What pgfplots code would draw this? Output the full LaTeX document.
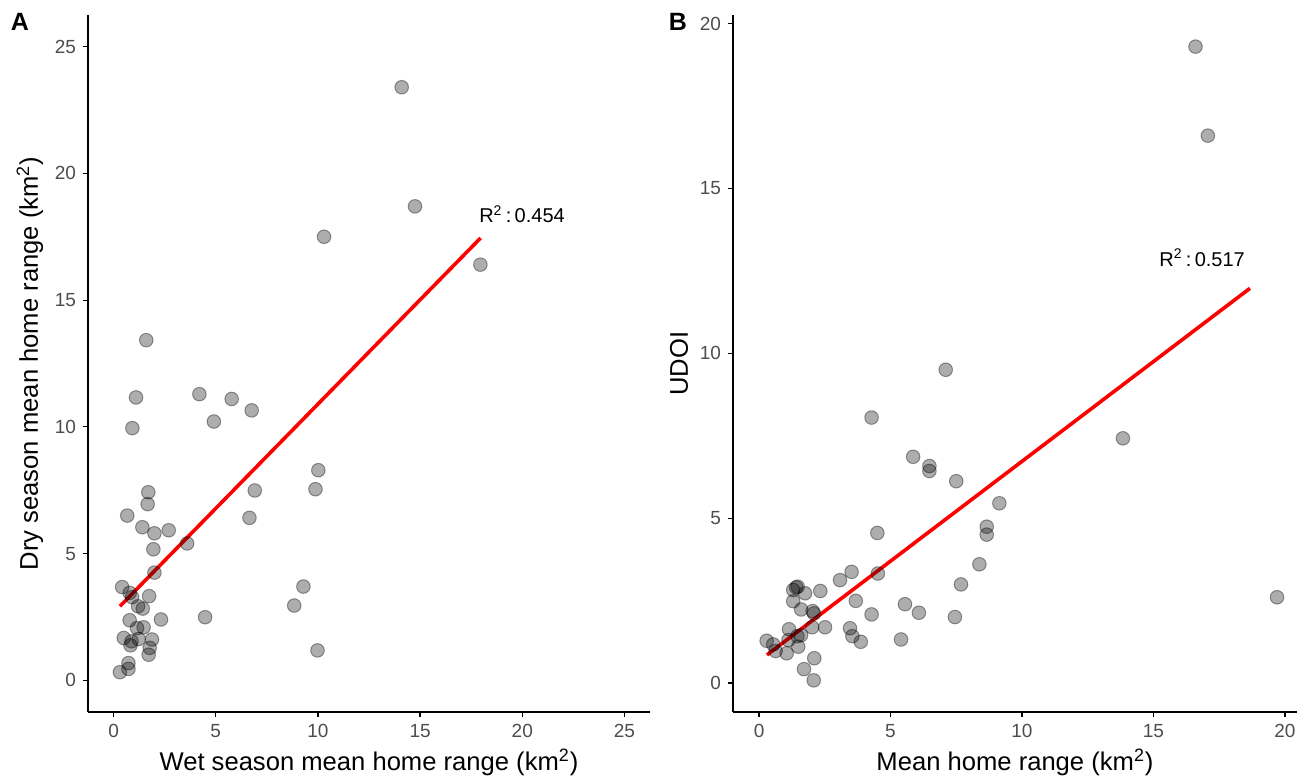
\documentclass[border=0pt]{standalone}
\usepackage{fontspec}
\setmainfont{Liberation Sans}
\usepackage{pgfplots}
\pgfplotsset{compat=1.18}
\definecolor{tickgray}{HTML}{4D4D4D}
\pgfplotsset{
  ggstyle/.style={
    scale only axis,
    axis lines=left,
    axis line style={black, line width=0.6pt, -},
    tick style={black, line width=0.6pt},
    tick align=outside,
    major tick length=2.5pt,
    xtick pos=bottom, ytick pos=left,
    /pgf/number format/assume math mode=true,
    tick label style={font=\fontsize{9.5}{11}\selectfont, text=tickgray},
    label style={font=\fontsize{12.8}{14}\selectfont},
    clip=false,
  },
  pts/.style={only marks, mark=*, mark size=3.4pt,
    mark options={fill=black, fill opacity=0.32, draw=black, draw opacity=0.38, line width=0.5pt}},
  fit/.style={no marks, red, line width=1.8pt},
}
\begin{document}
\begin{tikzpicture}
\path (-44pt,-33.5pt) rectangle (612pt,356pt);
\begin{axis}[ggstyle, at={(0,0)}, width=281pt, height=348.5pt,
  xmin=-1.25, xmax=26.25, ymin=-1.25, ymax=26.25,
  xtick={0,5,10,15,20,25}, ytick={0,5,10,15,20,25},
  xlabel={Wet season mean home range (km\textsuperscript{2})},
  ylabel={Dry season mean home range (km\textsuperscript{2})},
  xlabel style={yshift=1pt}, ylabel style={yshift=-1pt}]
\addplot[pts] coordinates {
(14.1,23.4) (14.75,18.7) (10.3,17.5) (17.95,16.4)
(1.6,13.42) (1.1,11.16) (4.2,11.29) (5.78,11.1) (6.76,10.65)
(0.92,9.95) (4.91,10.21) (10.02,8.29) (1.7,7.42) (6.91,7.49) (9.88,7.54)
(1.67,6.95) (6.65,6.41) (0.67,6.5) (1.41,6.04) (2.7,5.92) (2.0,5.8)
(1.95,5.17) (3.6,5.4) (2.0,4.25) (0.42,3.68) (0.79,3.45) (0.91,3.28)
(1.74,3.32) (1.2,2.92) (1.43,2.83) (2.32,2.4) (0.79,2.37) (1.15,2.06)
(1.47,2.09) (0.5,1.67) (0.88,1.54) (1.23,1.63) (1.88,1.61) (0.83,1.38)
(1.77,1.28) (1.72,1.01) (0.73,0.68) (0.73,0.45) (0.31,0.32)
(9.29,3.7) (8.84,2.95) (4.48,2.49) (9.98,1.18)
};
\addplot[fit] coordinates {(0.31,2.92) (17.96,17.45)};
\node[font=\fontsize{10}{11}\selectfont, anchor=west] at (axis cs:17.55,18.4) {R\textsuperscript{2}\,:\,0.454};
\end{axis}
\node[font=\bfseries\fontsize{12.5}{14}\selectfont] at (-34pt,345pt) {A};
\node[font=\bfseries\fontsize{12.5}{14}\selectfont] at (295pt,345pt) {B};
\begin{axis}[ggstyle, at={(322.5pt,0)}, width=282pt, height=348.5pt,
  xmin=-0.99, xmax=20.46, ymin=-0.88, ymax=20.26,
  xtick={0,5,10,15,20}, ytick={0,5,10,15,20},
  xlabel={Mean home range (km\textsuperscript{2})},
  ylabel={UDOI},
  xlabel style={yshift=1pt}, ylabel style={yshift=-1pt}]
\addplot[pts] coordinates {
(16.6,19.3) (17.07,16.6) (19.7,2.6) (7.1,9.5) (13.84,7.42)
(4.28,8.05) (5.86,6.86) (6.48,6.58) (6.48,6.43) (7.5,6.12) (9.14,5.45)
(8.66,4.74) (8.66,4.5) (4.5,4.55) (8.38,3.6) (7.68,2.99)
(3.52,3.37) (4.52,3.32) (3.08,3.12) (3.68,2.49) (4.28,2.08)
(3.46,1.66) (3.55,1.42) (3.87,1.25) (5.55,2.39) (6.08,2.13) (5.4,1.32) (7.45,2.0)
(0.29,1.28) (0.54,1.17) (0.63,0.97) (1.05,0.9) (1.12,1.3) (1.14,1.63)
(1.46,1.42) (1.49,1.1) (1.6,1.45) (1.41,2.9) (1.47,2.92) (1.3,2.82)
(1.75,2.72) (1.3,2.48) (1.6,2.23) (2.04,2.18) (2.09,2.11) (2.02,1.69)
(2.33,2.79) (2.51,1.69) (2.1,0.75) (1.71,0.42) (2.08,0.08)
};
\addplot[fit] coordinates {(0.3,0.85) (18.67,11.97)};
\node[font=\fontsize{10}{11}\selectfont] at (axis cs:16.85,12.9) {R\textsuperscript{2}\,:\,0.517};
\end{axis}
\end{tikzpicture}
\end{document}
